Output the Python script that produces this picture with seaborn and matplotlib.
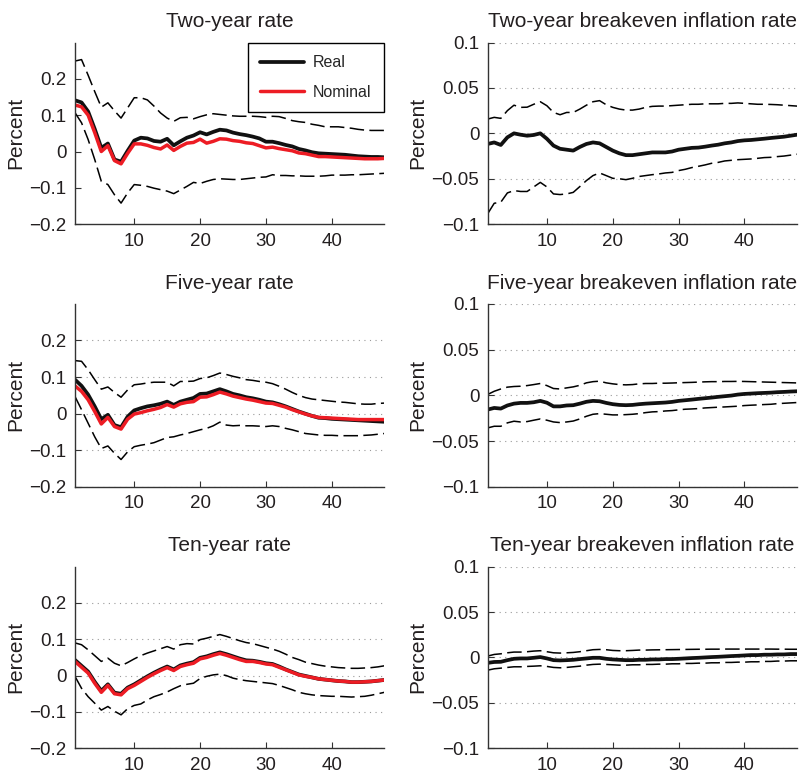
import matplotlib
matplotlib.use("Agg")
import matplotlib.pyplot as plt
import matplotlib.ticker as mticker
import seaborn as sns
import numpy as np

# Impulse responses, horizon 1..48
horizon = np.arange(1, 49)

two_real = [0.141, 0.135, 0.110, 0.062, 0.010, 0.022, -0.022, -0.028, 0.002, 0.030,
            0.038, 0.036, 0.029, 0.027, 0.035, 0.017, 0.028, 0.038, 0.044, 0.053,
            0.047, 0.054, 0.060, 0.058, 0.052, 0.048, 0.045, 0.041, 0.036, 0.027,
            0.027, 0.023, 0.018, 0.014, 0.007, 0.003, -0.002, -0.005, -0.006, -0.007,
            -0.008, -0.009, -0.011, -0.013, -0.014, -0.015, -0.015, -0.016]
two_nom = [0.128, 0.123, 0.100, 0.052, 0.000, 0.016, -0.025, -0.034, -0.005, 0.021,
           0.021, 0.017, 0.011, 0.007, 0.018, 0.003, 0.014, 0.023, 0.025, 0.034,
           0.023, 0.028, 0.035, 0.034, 0.030, 0.028, 0.024, 0.022, 0.016, 0.010,
           0.012, 0.008, 0.005, 0.002, -0.004, -0.006, -0.010, -0.014, -0.014, -0.015,
           -0.016, -0.017, -0.018, -0.019, -0.020, -0.020, -0.020, -0.019]
two_hi = [0.249, 0.253, 0.210, 0.165, 0.122, 0.134, 0.112, 0.092, 0.120, 0.148,
          0.148, 0.142, 0.125, 0.106, 0.092, 0.083, 0.093, 0.094, 0.090, 0.096,
          0.101, 0.104, 0.102, 0.100, 0.098, 0.097, 0.097, 0.097, 0.096, 0.094,
          0.097, 0.096, 0.091, 0.085, 0.082, 0.080, 0.075, 0.072, 0.068, 0.068,
          0.068, 0.066, 0.064, 0.061, 0.059, 0.058, 0.058, 0.058]
two_lo = [0.107, 0.079, 0.033, -0.022, -0.082, -0.091, -0.119, -0.142, -0.114, -0.091,
          -0.093, -0.096, -0.101, -0.105, -0.109, -0.116, -0.106, -0.096, -0.085, -0.088,
          -0.082, -0.077, -0.075, -0.076, -0.077, -0.077, -0.075, -0.073, -0.071, -0.070,
          -0.064, -0.066, -0.066, -0.067, -0.067, -0.068, -0.068, -0.068, -0.067, -0.065,
          -0.065, -0.065, -0.064, -0.064, -0.063, -0.062, -0.061, -0.060]

two_be = [-0.0117, -0.010, -0.0128, -0.0044, 0.0, -0.0015, -0.0026, -0.0018, 0.0, -0.006,
          -0.0135, -0.017, -0.018, -0.019, -0.015, -0.0117, -0.010, -0.011, -0.015, -0.019,
          -0.022, -0.024, -0.024, -0.023, -0.022, -0.021, -0.021, -0.021, -0.020, -0.018,
          -0.017, -0.016, -0.0157, -0.0147, -0.0135, -0.0125, -0.011, -0.010, -0.0085, -0.0077,
          -0.0073, -0.0066, -0.0059, -0.0051, -0.0044, -0.0037, -0.0026, -0.0015]
two_be_hi = [0.0157, 0.0176, 0.0165, 0.025, 0.031, 0.0286, 0.0288, 0.032, 0.0348, 0.0304,
             0.023, 0.0205, 0.023, 0.023, 0.0267, 0.031, 0.0348, 0.036, 0.0315, 0.0286,
             0.0267, 0.0256, 0.0256, 0.0267, 0.0286, 0.0297, 0.030, 0.030, 0.0305, 0.031,
             0.0315, 0.032, 0.032, 0.0325, 0.0325, 0.0325, 0.033, 0.033, 0.0335, 0.033,
             0.0325, 0.032, 0.032, 0.0318, 0.0315, 0.031, 0.0305, 0.030]
two_be_lo = [-0.0886, -0.077, -0.0758, -0.0656, -0.063, -0.064, -0.064, -0.059, -0.054, -0.059,
             -0.0667, -0.0674, -0.0667, -0.065, -0.0586, -0.052, -0.0465, -0.0436, -0.0465, -0.0495,
             -0.050, -0.051, -0.0495, -0.0475, -0.0465, -0.0455, -0.0447, -0.0436, -0.043, -0.041,
             -0.0396, -0.0377, -0.0363, -0.0348, -0.033, -0.032, -0.0304, -0.0297, -0.029, -0.0286,
             -0.0282, -0.0275, -0.0267, -0.0264, -0.0256, -0.025, -0.024, -0.023]

five_real = [0.093, 0.076, 0.052, 0.020, -0.015, -0.003, -0.031, -0.037, -0.008, 0.009,
             0.015, 0.020, 0.023, 0.027, 0.033, 0.024, 0.033, 0.038, 0.043, 0.054,
             0.055, 0.061, 0.067, 0.061, 0.054, 0.050, 0.045, 0.042, 0.038, 0.033,
             0.031, 0.026, 0.020, 0.013, 0.006, 0.000, -0.006, -0.011, -0.012, -0.014,
             -0.015, -0.016, -0.017, -0.018, -0.019, -0.020, -0.021, -0.022]
five_nom = [0.076, 0.061, 0.038, 0.006, -0.028, -0.010, -0.035, -0.042, -0.015, -0.001,
            0.003, 0.008, 0.012, 0.017, 0.025, 0.018, 0.027, 0.031, 0.033, 0.045,
            0.046, 0.052, 0.059, 0.054, 0.048, 0.044, 0.040, 0.037, 0.033, 0.029,
            0.028, 0.023, 0.018, 0.011, 0.005, -0.001, -0.006, -0.010, -0.011, -0.012,
            -0.013, -0.014, -0.015, -0.016, -0.016, -0.016, -0.016, -0.016]
five_hi = [0.145, 0.143, 0.120, 0.093, 0.067, 0.073, 0.058, 0.045, 0.065, 0.079,
           0.081, 0.084, 0.086, 0.086, 0.086, 0.076, 0.088, 0.088, 0.089, 0.096,
           0.098, 0.104, 0.111, 0.107, 0.102, 0.098, 0.093, 0.091, 0.088, 0.086,
           0.082, 0.075, 0.067, 0.058, 0.050, 0.044, 0.040, 0.038, 0.036, 0.034,
           0.032, 0.031, 0.029, 0.027, 0.026, 0.026, 0.028, 0.029]
five_lo = [0.047, 0.011, -0.026, -0.063, -0.095, -0.088, -0.108, -0.125, -0.104, -0.090,
           -0.086, -0.083, -0.079, -0.072, -0.065, -0.063, -0.058, -0.054, -0.049, -0.044,
           -0.040, -0.033, -0.023, -0.031, -0.033, -0.032, -0.033, -0.033, -0.034, -0.035,
           -0.033, -0.035, -0.040, -0.044, -0.049, -0.054, -0.056, -0.058, -0.059, -0.059,
           -0.060, -0.060, -0.060, -0.060, -0.059, -0.058, -0.056, -0.054]

five_be = [-0.0155, -0.0137, -0.0144, -0.011, -0.009, -0.0082, -0.0082, -0.0075, -0.006, -0.008,
           -0.012, -0.012, -0.011, -0.0107, -0.009, -0.007, -0.006, -0.0064, -0.0082, -0.0096,
           -0.0104, -0.0107, -0.0104, -0.0096, -0.009, -0.0086, -0.0082, -0.0078, -0.0071, -0.006,
           -0.0053, -0.0046, -0.0038, -0.0031, -0.0024, -0.0016, -0.0009, -0.0002, 0.0009, 0.0016,
           0.002, 0.0024, 0.0027, 0.003, 0.0035, 0.0038, 0.0042, 0.0045]
five_be_hi = [0.001, 0.0045, 0.007, 0.009, 0.0097, 0.010, 0.0107, 0.0118, 0.013, 0.0107,
              0.0075, 0.007, 0.0082, 0.0093, 0.011, 0.0137, 0.015, 0.0155, 0.0137, 0.0126,
              0.0118, 0.0115, 0.0118, 0.0126, 0.013, 0.013, 0.0133, 0.0133, 0.0135, 0.0138,
              0.014, 0.0142, 0.0145, 0.0148, 0.015, 0.015, 0.0152, 0.0152, 0.0153, 0.0152,
              0.015, 0.0148, 0.0146, 0.0144, 0.0142, 0.014, 0.0138, 0.0136]
five_be_lo = [-0.0355, -0.0337, -0.0337, -0.030, -0.0282, -0.029, -0.0286, -0.0271, -0.0257, -0.0271,
              -0.029, -0.0297, -0.029, -0.028, -0.0257, -0.0228, -0.0206, -0.0199, -0.0206, -0.0213,
              -0.0213, -0.021, -0.0206, -0.0199, -0.0188, -0.018, -0.0177, -0.017, -0.0166, -0.0158,
              -0.0151, -0.0148, -0.0144, -0.0137, -0.0133, -0.0129, -0.0126, -0.0122, -0.0118, -0.0111,
              -0.0107, -0.0104, -0.010, -0.0097, -0.009, -0.0086, -0.0082, -0.0078]

ten_real = [0.043, 0.027, 0.011, -0.017, -0.042, -0.024, -0.047, -0.050, -0.033, -0.024,
            -0.013, -0.002, 0.008, 0.017, 0.025, 0.017, 0.028, 0.033, 0.037, 0.049,
            0.053, 0.059, 0.064, 0.059, 0.053, 0.047, 0.042, 0.041, 0.038, 0.034,
            0.032, 0.025, 0.017, 0.010, 0.003, -0.001, -0.005, -0.009, -0.011, -0.013,
            -0.015, -0.016, -0.018, -0.018, -0.017, -0.016, -0.014, -0.012]
ten_nom = [0.039, 0.023, 0.007, -0.021, -0.046, -0.027, -0.050, -0.053, -0.036, -0.027,
           -0.016, -0.005, 0.005, 0.014, 0.022, 0.014, 0.025, 0.030, 0.034, 0.046,
           0.050, 0.056, 0.061, 0.056, 0.050, 0.044, 0.039, 0.039, 0.036, 0.032,
           0.030, 0.023, 0.016, 0.009, 0.002, -0.002, -0.005, -0.009, -0.011, -0.013,
           -0.015, -0.016, -0.018, -0.018, -0.017, -0.016, -0.014, -0.012]
ten_hi = [0.090, 0.085, 0.071, 0.055, 0.039, 0.048, 0.034, 0.027, 0.036, 0.046,
          0.055, 0.062, 0.068, 0.074, 0.080, 0.073, 0.085, 0.088, 0.087, 0.099,
          0.103, 0.108, 0.113, 0.108, 0.102, 0.096, 0.091, 0.088, 0.083, 0.078,
          0.073, 0.067, 0.059, 0.050, 0.044, 0.037, 0.033, 0.029, 0.026, 0.024,
          0.022, 0.021, 0.020, 0.020, 0.021, 0.022, 0.024, 0.027]
ten_lo = [-0.002, -0.035, -0.058, -0.076, -0.095, -0.085, -0.098, -0.108, -0.091, -0.082,
          -0.078, -0.067, -0.058, -0.052, -0.045, -0.036, -0.028, -0.024, -0.021, -0.008,
          -0.002, 0.002, 0.004, 0.000, -0.007, -0.011, -0.014, -0.016, -0.018, -0.020,
          -0.022, -0.027, -0.033, -0.039, -0.046, -0.050, -0.053, -0.055, -0.056, -0.057,
          -0.057, -0.058, -0.059, -0.058, -0.057, -0.054, -0.050, -0.046]

ten_be = [-0.006, -0.005, -0.0048, -0.003, -0.0015, -0.0011, -0.0011, -0.0004, 0.0004, -0.0011,
          -0.003, -0.0033, -0.003, -0.0026, -0.0018, -0.0011, -0.0004, -0.0004, -0.0015, -0.0022,
          -0.0026, -0.003, -0.003, -0.0026, -0.0026, -0.0022, -0.0022, -0.0018, -0.0018, -0.0015,
          -0.0011, -0.0007, -0.0004, 0.0, 0.0004, 0.0007, 0.0011, 0.0015, 0.0018, 0.0022,
          0.0026, 0.0026, 0.003, 0.003, 0.0033, 0.0033, 0.0037, 0.0037]
ten_be_hi = [0.0015, 0.0033, 0.004, 0.0051, 0.0059, 0.0059, 0.0063, 0.007, 0.0074, 0.0063,
             0.0051, 0.0048, 0.0051, 0.0055, 0.0063, 0.0074, 0.0085, 0.0088, 0.0085, 0.0077,
             0.0074, 0.0074, 0.0077, 0.0081, 0.0081, 0.0083, 0.0084, 0.0085, 0.0086, 0.0087,
             0.0088, 0.0089, 0.009, 0.009, 0.0091, 0.0091, 0.0092, 0.0092, 0.0092, 0.0092,
             0.0092, 0.0092, 0.0092, 0.0092, 0.0091, 0.0091, 0.009, 0.009]
ten_be_lo = [-0.014, -0.0125, -0.0118, -0.011, -0.0103, -0.0103, -0.0099, -0.0096, -0.0092, -0.0099,
             -0.011, -0.0114, -0.011, -0.0103, -0.0096, -0.0085, -0.0077, -0.0074, -0.0077, -0.0081,
             -0.0085, -0.0085, -0.0081, -0.0081, -0.0077, -0.0077, -0.0074, -0.0074, -0.007, -0.007,
             -0.0066, -0.0066, -0.0063, -0.0063, -0.0059, -0.0059, -0.0055, -0.0055, -0.0052, -0.0052,
             -0.0048, -0.0048, -0.0044, -0.0044, -0.004, -0.004, -0.0037, -0.0037]

rate_ticks = [-0.2, -0.1, 0, 0.1, 0.2]
be_ticks = [-0.1, -0.05, 0, 0.05, 0.1]
x_ticks = [10, 20, 30, 40]

sns.set_style("ticks")
plt.rcParams['font.family'] = ['Liberation Sans', 'DejaVu Sans']
TXT = '#231f20'
RED = '#ed1c24'


def pct_fmt(v, pos):
    return f"{v:g}".replace('-', '\u2212')


def panel(ax, title, upper, lower, real, nominal, ylim, yticks, grid=True, legend=False):
    dash = dict(color='black', linewidth=1.1, linestyle=(0, (9.5, 3.5)))
    sns.lineplot(x=horizon, y=upper, ax=ax, **dash)
    sns.lineplot(x=horizon, y=lower, ax=ax, **dash)
    sns.lineplot(x=horizon, y=real, ax=ax, color='#111111', linewidth=2.7, label='Real' if legend else None)
    if nominal is not None:
        sns.lineplot(x=horizon, y=nominal, ax=ax, color=RED, linewidth=2.5,
                     label='Nominal' if legend else None)
    ax.set_xlim(1, 48)
    ax.set_ylim(*ylim)
    ax.set_xticks(x_ticks)
    ax.set_yticks(yticks)
    ax.yaxis.set_major_formatter(mticker.FuncFormatter(pct_fmt))
    if grid:
        for t in yticks:
            ax.axhline(t, color='#9a9a9a', linewidth=0.8, linestyle=(0, (1, 4)), zorder=0)
    sns.despine(ax=ax)
    for s in ['left', 'bottom']:
        ax.spines[s].set_color('#333333')
        ax.spines[s].set_linewidth(1.0)
    ax.tick_params(direction='in', length=4, width=0.8, colors='#333333',
                   labelsize=13.5, labelcolor=TXT, pad=6)
    ax.set_ylabel('Percent', fontsize=15, color=TXT, labelpad=3)
    ax.set_xlabel('')
    ax.set_title(title, fontsize=15, color=TXT, pad=11)
    if legend:
        leg = ax.legend(loc='upper right', borderaxespad=0, fancybox=False, fontsize=11.5,
                        handlelength=2.7, borderpad=0.8, labelspacing=0.9, handletextpad=0.6)
        leg.get_frame().set_edgecolor('black')
        leg.get_frame().set_linewidth(1.0)
        leg.get_frame().set_alpha(1)
    elif ax.get_legend() is not None:
        ax.get_legend().remove()


fig = plt.figure(figsize=(8.06, 7.73), dpi=100)
lx, rx, w = 0.093, 0.605, 0.384
h = 0.235
ax1 = fig.add_axes([lx, 0.710, w, h])
ax2 = fig.add_axes([rx, 0.710, w, h])
ax3 = fig.add_axes([lx, 0.370, w, 0.237])
ax4 = fig.add_axes([rx, 0.370, w, 0.237])
ax5 = fig.add_axes([lx, 0.032, w, h])
ax6 = fig.add_axes([rx, 0.032, w, h])

panel(ax1, 'Two-year rate', two_hi, two_lo, two_real, two_nom, (-0.2, 0.3), rate_ticks,
      grid=False, legend=True)
panel(ax2, 'Two-year breakeven inflation rate', two_be_hi, two_be_lo, two_be, None,
      (-0.1, 0.1), be_ticks)
panel(ax3, 'Five-year rate', five_hi, five_lo, five_real, five_nom, (-0.2, 0.3), rate_ticks)
panel(ax4, 'Five-year breakeven inflation rate', five_be_hi, five_be_lo, five_be, None,
      (-0.1, 0.1), be_ticks)
panel(ax5, 'Ten-year rate', ten_hi, ten_lo, ten_real, ten_nom, (-0.2, 0.3), rate_ticks)
panel(ax6, 'Ten-year breakeven inflation rate', ten_be_hi, ten_be_lo, ten_be, None,
      (-0.1, 0.1), be_ticks)

fig.savefig('out.png', dpi=100)
